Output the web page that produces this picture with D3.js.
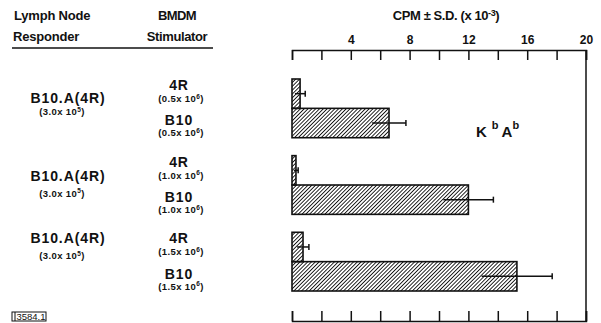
<!DOCTYPE html>
<html>
<head>
<meta charset="utf-8">
<script src="https://cdn.jsdelivr.net/npm/d3@7"></script>
<style>
  body { margin: 0; background: #fff; }
  text { font-family: "Liberation Sans", Arial, sans-serif; fill: #111; }
</style>
</head>
<body>
<div id="chart"></div>
<script>
// data
var responders = ["B10.A(4R)", "B10.A(4R)", "B10.A(4R)"];
var responderCells = ["3.0", "3.0", "3.0"];      // x10^5
var stimulators = ["4R", "B10"];
var stimulatorCells = ["0.5", "1.0", "1.5"];     // x10^6
var cpm4R = [0.55, 0.27, 0.75];
var sd4R = [0.35, 0.15, 0.4];
var cpmB10 = [6.6, 12.0, 15.3];
var sdB10 = [1.15, 1.7, 2.4];
var tickValues = [0, 2, 4, 6, 8, 10, 12, 14, 16, 18, 20];
var tickLabels = [4, 8, 12, 16, 20];

var W = 601, H = 323;
var svg = d3.select('#chart').append('svg')
    .attr('width', W)
    .attr('height', H);

// hatch pattern
svg.append('defs').append('pattern')
    .attr('id', 'hatch')
    .attr('patternUnits', 'userSpaceOnUse')
    .attr('width', 2.7)
    .attr('height', 2.7)
    .attr('patternTransform', 'rotate(45)')
    .append('line')
    .attr('x1', 0).attr('y1', 0).attr('x2', 0).attr('y2', 2.7)
    .attr('stroke', '#111')
    .attr('stroke-width', 1.8);

var x = d3.scaleLinear().domain([0, 20]).range([292, 586]);
var axisTopY = 50, axisBottomY = 321;

var groups = d3.range(responders.length);
var yGroup = d3.scaleBand().domain(groups).range([79, 291]).paddingInner(0.234);
var yRow = d3.scaleBand().domain(stimulators).range([0, yGroup.bandwidth()]);

// rows
var rows = [];
groups.forEach(function (g) {
    rows.push({ g: g, stim: '4R', v: cpm4R[g], sd: sd4R[g] });
    rows.push({ g: g, stim: 'B10', v: cpmB10[g], sd: sdB10[g] });
});
function rowTop(d) { return yGroup(d.g) + yRow(d.stim); }

// top axis
svg.append('g')
    .attr('transform', 'translate(0,' + axisTopY + ')')
    .call(d3.axisTop(x).tickValues(tickValues).tickSize(-10).tickPadding(6)
        .tickFormat(function (d) { return tickLabels.indexOf(d) >= 0 ? d : ''; }))
    .call(function (g) {
        g.selectAll('path, line').attr('stroke', '#111').attr('stroke-width', 1.5);
        g.selectAll('text').style('font-size', '12px').style('font-weight', 'bold')
            .style('font-family', '"Liberation Sans", Arial, sans-serif').attr('fill', '#111');
    });

// bottom axis
svg.append('g')
    .attr('transform', 'translate(0,' + axisBottomY + ')')
    .call(d3.axisBottom(x).tickValues(tickValues).tickSize(-10).tickFormat(''))
    .call(function (g) {
        g.selectAll('path, line').attr('stroke', '#111').attr('stroke-width', 1.5);
    });

// right frame line
svg.append('line')
    .attr('x1', x(20)).attr('x2', x(20))
    .attr('y1', axisTopY).attr('y2', axisBottomY)
    .attr('stroke', '#111').attr('stroke-width', 1.5);

// bars
svg.selectAll('.bar')
    .data(rows)
    .enter()
    .append('rect')
    .attr('class', 'bar')
    .attr('x', x(0))
    .attr('y', rowTop)
    .attr('width', function (d) { return x(d.v) - x(0); })
    .attr('height', yRow.bandwidth())
    .attr('fill', 'url(#hatch)')
    .attr('stroke', '#111')
    .attr('stroke-width', 1.6);

// error bars
var err = svg.selectAll('.err')
    .data(rows)
    .enter()
    .append('g')
    .attr('class', 'err')
    .attr('transform', function (d) { return 'translate(0,' + (rowTop(d) + yRow.bandwidth() / 2) + ')'; });
err.append('line')
    .attr('x1', function (d) { return x(Math.max(0, d.v - d.sd)); })
    .attr('x2', function (d) { return x(d.v + d.sd); })
    .attr('stroke', '#111').attr('stroke-width', 1.5);
err.append('line')
    .attr('x1', function (d) { return x(d.v + d.sd); })
    .attr('x2', function (d) { return x(d.v + d.sd); })
    .attr('y1', -3).attr('y2', 3)
    .attr('stroke', '#111').attr('stroke-width', 1.5);

// scientific notation label helper
function sci(sel, mant, exp) {
    sel.append('tspan').text('(' + mant + 'x 10');
    sel.append('tspan').text(exp).attr('dy', -3.5).style('font-size', '6.5px');
    sel.append('tspan').text(')').attr('dy', 3.5);
}

// headers
svg.append('text').attr('x', 14).attr('y', 20).text('Lymph Node')
    .style('font-size', '13px').style('font-weight', 'bold').style('letter-spacing', '-0.2px');
svg.append('text').attr('x', 13).attr('y', 41).text('Responder')
    .style('font-size', '13px').style('font-weight', 'bold').style('letter-spacing', '-0.2px');
svg.append('text').attr('x', 177).attr('y', 20).attr('text-anchor', 'middle').text('BMDM')
    .style('font-size', '13px').style('font-weight', 'bold').style('letter-spacing', '-0.6px');
svg.append('text').attr('x', 177).attr('y', 41).attr('text-anchor', 'middle').text('Stimulator')
    .style('font-size', '13px').style('font-weight', 'bold').style('letter-spacing', '-0.4px');
svg.append('line').attr('x1', 12).attr('x2', 213).attr('y1', 48).attr('y2', 48)
    .attr('stroke', '#111').attr('stroke-width', 1.6);

// axis title
var t = svg.append('text').attr('x', 446).attr('y', 20).attr('text-anchor', 'middle')
    .style('font-size', '13px').style('font-weight', 'bold').style('letter-spacing', '-0.4px');
t.append('tspan').text('CPM ± S.D. (x 10');
t.append('tspan').text('-3').attr('dy', -4).style('font-size', '9px');
t.append('tspan').text(')').attr('dy', 4);

// responder labels
var respDy = [24, 25, 11], respSubDy = [36, 41, 27];
groups.forEach(function (g) {
    svg.append('text').attr('x', 68).attr('y', yGroup(g) + respDy[g]).attr('text-anchor', 'middle')
        .text(responders[g])
        .style('font-size', '14px').style('font-weight', 'bold').style('letter-spacing', '0.9px');
    svg.append('text').attr('x', 62).attr('y', yGroup(g) + respSubDy[g]).attr('text-anchor', 'middle')
        .style('font-size', '9.5px').style('font-weight', 'bold').style('letter-spacing', '0.4px')
        .call(sci, responderCells[g], '5');
});

// stimulator labels
rows.forEach(function (d) {
    var first = d.stim === stimulators[0];
    svg.append('text').attr('x', 179).attr('y', rowTop(d) + (first ? 11 : 17)).attr('text-anchor', 'middle')
        .text(d.stim)
        .style('font-size', '14px').style('font-weight', 'bold').style('letter-spacing', '0.9px');
    svg.append('text').attr('x', 181).attr('y', rowTop(d) + (first ? 23 : 28)).attr('text-anchor', 'middle')
        .style('font-size', '9.5px').style('font-weight', 'bold').style('letter-spacing', '0.4px')
        .call(sci, stimulatorCells[d.g], '6');
});

// haplotype label
var k = svg.append('text').attr('x', 476).attr('y', 137)
    .style('font-size', '15px').style('font-weight', 'bold');
k.append('tspan').text('K');
k.append('tspan').text('b').attr('dx', 5).attr('dy', -8).style('font-size', '11px');
k.append('tspan').text('A').attr('dx', 3).attr('dy', 8);
k.append('tspan').text('b').attr('dy', -8).style('font-size', '11px');

// figure id box
svg.append('rect').attr('x', 12).attr('y', 312).attr('width', 34).attr('height', 9)
    .attr('fill', 'none').attr('stroke', '#111').attr('stroke-width', 1);
svg.append('line').attr('x1', 15).attr('x2', 15).attr('y1', 312).attr('y2', 321)
    .attr('stroke', '#111').attr('stroke-width', 1);
svg.append('text').attr('x', 31).attr('y', 320).attr('text-anchor', 'middle').text('3584.1')
    .style('font-size', '9.5px');
</script>
</body>
</html>
